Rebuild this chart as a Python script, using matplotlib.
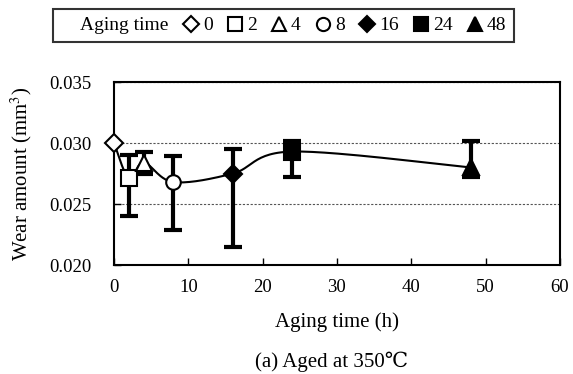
import numpy as np
import matplotlib
matplotlib.use('Agg')
import matplotlib.pyplot as plt
from matplotlib.lines import Line2D

plt.rcParams['font.family'] = ['Liberation Serif', 'DejaVu Serif', 'Noto Sans CJK SC']
plt.rcParams['mathtext.fontset'] = 'stix'

# datos
tiempo = [0, 2, 4, 8, 16, 24, 48]
desgaste = [0.0300, 0.0271, 0.0284, 0.0268, 0.0275, 0.0293, 0.0280]
err_sup = [0.0300, 0.0290, 0.0293, 0.0289, 0.0295, 0.0302, 0.0302]
err_inf = [0.0300, 0.0240, 0.0275, 0.0229, 0.0215, 0.0272, 0.0272]
etiquetas = ['0', '2', '4', '8', '16', '24', '48']
marcadores = ['D', 's', '^', 'o', 'D', 's', '^']
rellenos = ['white', 'white', 'white', 'white', 'black', 'black', 'black']
tamanos = [9, 11, 11, 10.5, 9, 11, 11]

fig = plt.figure(figsize=(5.73, 3.74), dpi=100)
ax = fig.add_axes([0.199, 0.2914, 0.778, 0.4893])
ax.set_xlim(0, 60)
ax.set_ylim(0.020, 0.035)

# linea suavizada (estilo Excel) calculada en pixeles
pts = ax.transData.transform(np.column_stack([tiempo, desgaste]))
curva = []
n = len(pts)
for i in range(n - 1):
    p0 = pts[max(i - 1, 0)]
    p1 = pts[i]
    p2 = pts[i + 1]
    p3 = pts[min(i + 2, n - 1)]
    c1 = p1 + (p2 - p0) / 6
    c2 = p2 - (p3 - p1) / 6
    t = np.linspace(0, 1, 30)[:, None]
    seg = (1 - t) ** 3 * p1 + 3 * (1 - t) ** 2 * t * c1 + 3 * (1 - t) * t ** 2 * c2 + t ** 3 * p2
    curva.append(seg)
curva = ax.transData.inverted().transform(np.vstack(curva))
ax.plot(curva[:, 0], curva[:, 1], color='black', lw=1.5, zorder=2)

# barras de error
for i in range(1, n):
    ax.errorbar(tiempo[i], desgaste[i],
                yerr=[[desgaste[i] - err_inf[i]], [err_sup[i] - desgaste[i]]],
                fmt='none', ecolor='black', elinewidth=3, capsize=6.5, capthick=3, zorder=3)

handles = [Line2D([], [], linestyle='none', marker='')]
labels = ['Aging time']
for i in range(n):
    ax.plot(tiempo[i], desgaste[i], linestyle='none', marker=marcadores[i],
            markersize=tamanos[i], markerfacecolor=rellenos[i], markeredgecolor='black',
            markeredgewidth=1.5, zorder=4, clip_on=False)
    handles.append(Line2D([], [], linestyle='none', marker=marcadores[i], markersize=tamanos[i] - 1,
                          markerfacecolor=rellenos[i], markeredgecolor='black', markeredgewidth=1.5))
    labels.append(etiquetas[i])

ax.set_yticks([0.020, 0.025, 0.030, 0.035])
ax.set_yticklabels(['0.020', '0.025', '0.030', '0.035'])
ax.set_xticks([0, 10, 20, 30, 40, 50, 60])
ax.tick_params(direction='in', labelsize=13.5, length=5, width=1)
ax.tick_params(axis='y', pad=16)
ax.tick_params(axis='x', pad=10)
for s in ax.spines.values():
    s.set_linewidth(1.5)
ax.yaxis.grid(True, linestyle=(0, (2, 1.5)), color='#555555', lw=0.8)
ax.set_axisbelow(True)

ax.set_xlabel('Aging time (h)', fontsize=15, labelpad=12)
ax.set_ylabel('Wear amount (mm$^3$)', fontsize=15, labelpad=11)

leg = fig.legend(handles, labels, ncol=8, loc='upper left', bbox_to_anchor=(0.0925, 0.976),
                 frameon=True, fancybox=False, edgecolor='black', fontsize=14,
                 handlelength=0.8, handletextpad=0.2, columnspacing=0.76, borderpad=0.4,
                 borderaxespad=0)
leg.get_frame().set_linewidth(1.5)

fig.text(0.578, 0.018, '(a) Aged at 350℃', ha='center', fontsize=15)

fig.savefig('out.png', dpi=100)
